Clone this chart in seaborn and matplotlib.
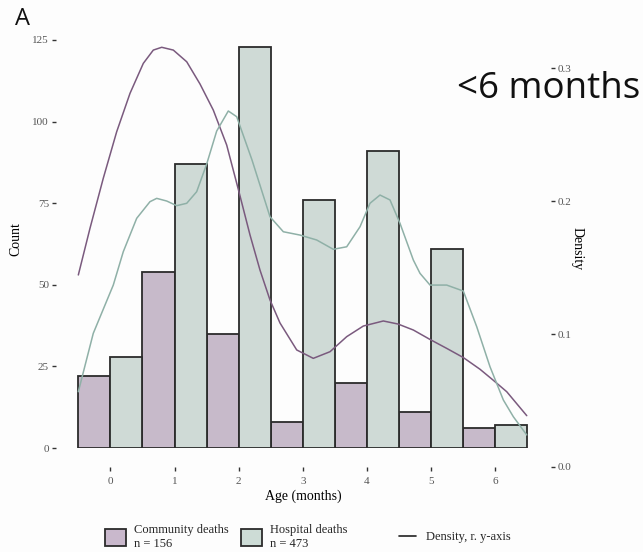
import matplotlib
matplotlib.use("Agg")
import matplotlib.pyplot as plt
import seaborn as sns
import pandas as pd
from matplotlib.patches import Patch
from matplotlib.lines import Line2D

# ---- data ----
ages = [0, 1, 2, 3, 4, 5, 6]
community_counts = [22, 54, 35, 8, 20, 11, 6]
hospital_counts = [28, 87, 123, 76, 91, 61, 7]

comm_dens_x = [-0.500, -0.318, -0.111, 0.098, 0.306, 0.513, 0.669, 0.800, 0.981, 1.190,
               1.397, 1.604, 1.813, 2.005, 2.177, 2.332, 2.488, 2.644, 2.905, 3.163,
               3.424, 3.684, 3.943, 4.255, 4.484, 4.723, 4.983, 5.243, 5.502, 5.762,
               5.965, 6.179, 6.491]
comm_dens_y = [0.1444, 0.1795, 0.2171, 0.2521, 0.2810, 0.3035, 0.3135, 0.3156, 0.3135, 0.3047,
               0.2880, 0.2684, 0.2421, 0.2068, 0.1744, 0.1481, 0.1256, 0.1083, 0.0880, 0.0817,
               0.0867, 0.0980, 0.1060, 0.1098, 0.1075, 0.1030, 0.0959, 0.0892, 0.0823, 0.0735,
               0.0654, 0.0566, 0.0386]
hosp_dens_x = [-0.500, -0.267, 0.045, 0.201, 0.410, 0.617, 0.722, 0.878, 1.034, 1.190,
               1.345, 1.501, 1.657, 1.838, 1.969, 2.208, 2.488, 2.696, 2.956, 3.216,
               3.475, 3.684, 3.892, 4.047, 4.203, 4.359, 4.515, 4.723, 4.827, 4.983,
               5.243, 5.502, 5.711, 5.918, 6.126, 6.282, 6.491]
hosp_dens_y = [0.0566, 0.1005, 0.1368, 0.1619, 0.1870, 0.1995, 0.2020, 0.2000, 0.1965, 0.1983,
               0.2070, 0.2278, 0.2526, 0.2677, 0.2634, 0.2308, 0.1882, 0.1769, 0.1744, 0.1707,
               0.1637, 0.1656, 0.1807, 0.1983, 0.2045, 0.2008, 0.1832, 0.1556, 0.1456, 0.1368,
               0.1368, 0.1323, 0.1055, 0.0754, 0.0504, 0.0378, 0.0241]

count_ticks = [0, 25, 50, 75, 100, 125]
density_ticks = [0.0, 0.1, 0.2, 0.3]
legend_labels = ["Community deaths\nn = 156", "Hospital deaths\nn = 473", "Density, r. y-axis"]

# ---- style ----
PURPLE_FILL = "#c9b8cc"
GREEN_FILL = "#cddcd6"
PURPLE_LINE = "#7a5a7e"
GREEN_LINE = "#8fb0a7"
EDGE = "#2b2b2b"
TICK_COL = "#555555"
SERIF = ["Liberation Serif", "DejaVu Serif"]
SANS = ["Open Sans", "DejaVu Sans"]

sns.set_theme(style="white")
plt.rcParams["font.family"] = SERIF

W, H = 643, 552
fig = plt.figure(figsize=(W / 100, H / 100), dpi=100)
fig.patch.set_facecolor("#fdfdfd")

x_left, x_right = -0.848, 6.869
axL_px, axR_px = 56, 551
ax_w = (axR_px - axL_px) / W

# bars axis (counts)
ax1 = fig.add_axes([axL_px / W, (H - 448) / H, ax_w, 418 / H])
df = pd.DataFrame({
    "age": [str(a) for a in ages] * 2,
    "count": community_counts + hospital_counts,
    "type": ["Community"] * len(ages) + ["Hospital"] * len(ages),
})
sns.barplot(data=df, x="age", y="count", hue="type", order=[str(a) for a in ages],
            palette={"Community": PURPLE_FILL, "Hospital": GREEN_FILL},
            width=1.0, dodge=True, edgecolor=EDGE, linewidth=1.3, legend=False, ax=ax1)
ax1.set_xlim(x_left, x_right)
ax1.set_ylim(0, 128.06)
ax1.set_facecolor("none")
for s in ax1.spines.values():
    s.set_visible(False)
ax1.set_xticks([])
ax1.set_xlabel("")
ax1.set_yticks(count_ticks)
ax1.set_yticklabels([str(t) for t in count_ticks])
ax1.tick_params(axis="y", left=True, length=3, width=1.0, color="#333333",
                labelsize=8, labelcolor=TICK_COL, pad=2)
ax1.set_ylabel("Count", fontsize=10, color="black")
ax1.yaxis.set_label_coords(-0.068, 0.5)

# density axis
ax2 = fig.add_axes([axL_px / W, (H - 467) / H, ax_w, 437 / H])
ax2.set_facecolor("none")
sns.lineplot(x=comm_dens_x, y=comm_dens_y, color=PURPLE_LINE, linewidth=1.1, ax=ax2, sort=False)
sns.lineplot(x=hosp_dens_x, y=hosp_dens_y, color=GREEN_LINE, linewidth=1.1, ax=ax2, sort=False)
ax2.set_xlim(x_left, x_right)
ax2.set_ylim(0, 0.3286)
for s in ax2.spines.values():
    s.set_visible(False)
ax2.yaxis.tick_right()
ax2.yaxis.set_label_position("right")
ax2.set_yticks(density_ticks)
ax2.set_yticklabels([f"{t:.1f}" for t in density_ticks])
ax2.set_xticks(ages)
ax2.set_xticklabels([str(a) for a in ages])
ax2.tick_params(axis="y", right=True, left=False, length=3, width=1.0, color="#333333",
                labelsize=8, labelcolor=TICK_COL, pad=2)
ax2.tick_params(axis="x", bottom=True, length=3, width=1.0, color="#333333",
                labelsize=8, labelcolor=TICK_COL, pad=4)
ax2.set_ylabel("Density", fontsize=10, color="black", rotation=270)
ax2.set_xlabel("Age (months)", fontsize=10, color="black", labelpad=3)
ax2.yaxis.set_label_coords(1.066, 0.5)

# legends
bar_handles = [Patch(facecolor=PURPLE_FILL, edgecolor=EDGE, linewidth=1.3),
               Patch(facecolor=GREEN_FILL, edgecolor=EDGE, linewidth=1.3)]
fig.legend(bar_handles, legend_labels[:2], loc="center", ncol=2,
           bbox_to_anchor=(226 / W, (H - 537) / H), frameon=False, fontsize=9,
           handlelength=1.7, handleheight=1.7, columnspacing=1.0, handletextpad=0.6,
           labelspacing=0.2)
line_handle = [Line2D([0], [0], color="#222222", linewidth=1.2)]
fig.legend(line_handle, legend_labels[2:], loc="center",
           bbox_to_anchor=(455 / W, (H - 537) / H), frameon=False, fontsize=9,
           handlelength=1.4, handletextpad=0.8)

# annotations
fig.text(15 / W, 1 - 25 / H, "A", fontsize=17, family=SANS,
         ha="left", va="baseline", color="#111111")
fig.text(640 / W, 1 - 98 / H, "<6 months", fontsize=26.5, family=SANS,
         ha="right", va="baseline", color="#111111")

fig.savefig("out.png", dpi=100, facecolor=fig.get_facecolor())
